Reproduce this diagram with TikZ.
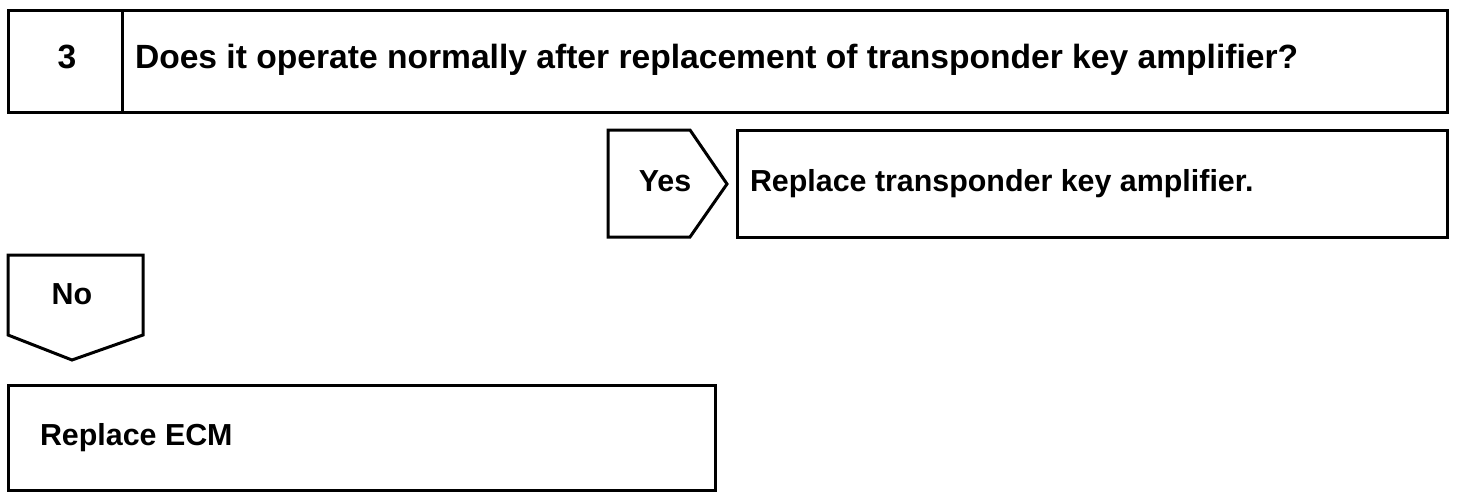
\documentclass[tikz,border=0pt]{standalone}
\usepackage{fontspec}
\setmainfont{Liberation Sans}
\usetikzlibrary{positioning}
\newcommand*{\stepfont}{\bfseries\fontsize{15.2}{17}\selectfont}
\newcommand*{\askfont}{\bfseries\fontsize{16.8}{19}\selectfont}
\definecolor{ink}{gray}{0}
\tikzstyle{chart}=[x=0.5pt, y=-0.5pt, line width=1.5pt, inner sep=0pt, outer sep=0pt]
\tikzstyle{steptext}=[font=\stepfont, anchor=mid west]
\tikzstyle{tagtext}=[font=\stepfont, anchor=mid]

\begin{document}
\begin{tikzpicture}[chart]
    \path [use as bounding box] (0,0) rectangle (1472,498);
    % question
    \draw [ink] (8,10) rectangle (1447,112);
    \draw [ink] (122,10) -- (122,112);
    \node [tagtext, font=\askfont] (num) at (67,63) {3};
    \node [steptext, font=\askfont] (question) at (135,63) {Does it operate normally after replacement of transponder key amplifier?};
    % yes
    \draw [ink] (608,130) -- (690,130) -- (727,184) -- (690,237) -- (608,237) -- cycle;
    \node [tagtext] (yes) at (665,186) {Yes};
    \draw [ink] (737,130) rectangle (1447,237);
    \node [steptext] (yesfix) at (750,186) {Replace transponder key amplifier.};
    % no
    \draw [ink] (8,255) -- (143,255) -- (143,335) -- (72,360) -- (8,335) -- cycle;
    \node [tagtext] (no) at (72,299) {No};
    \draw [ink] (8,385) rectangle (715,490);
    \node [steptext] (nofix) at (40,440) {Replace ECM};
\end{tikzpicture}
\end{document}
